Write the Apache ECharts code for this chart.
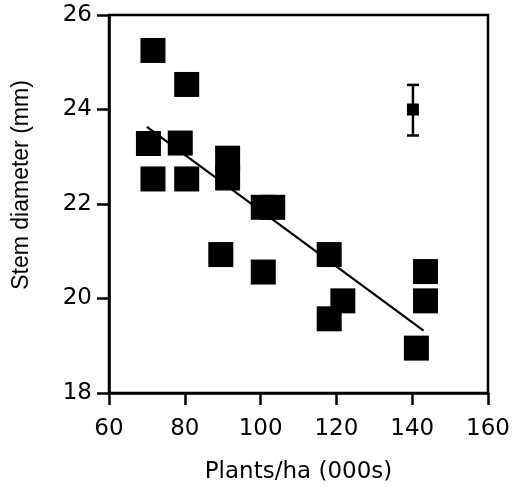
<!DOCTYPE html>
<html lang="en">
<head>
    <meta charset="UTF-8">
    <title>Stem diameter vs plant density</title>
    <style>
        html, body { margin: 0; padding: 0; background: #fff; }
        #main { width: 523px; height: 491px; }
    </style>
</head>
<body>
<script src="https://cdn.jsdelivr.net/npm/echarts@6/dist/echarts.min.js"></script>
<div id="main"></div>
<script>
    // plants per ha (thousands) and stem diameter (mm)
    var density  = [71.6, 80.5, 70.4, 78.8, 71.6, 80.5, 91.3, 91.3, 89.5, 100.7, 103.2, 100.7, 118.1, 121.7, 118.1, 143.5, 143.5, 141.1];
    var diameter = [25.25, 24.53, 23.28, 23.29, 22.53, 22.53, 22.97, 22.55, 20.93, 21.93, 21.93, 20.56, 20.93, 19.95, 19.57, 20.57, 19.95, 18.95];

    // fitted line end points
    var fitX = [70, 143];
    var fitY = [23.63, 19.32];

    // error bar shown in the upper right corner
    var errX = [140.2];
    var errY = [24.0];
    var errLow = [23.45];
    var errHigh = [24.52];

    var font = 'DejaVu Sans';

    var points = density.map(function (x, i) { return [x, diameter[i]]; });
    var fitLine = fitX.map(function (x, i) { return [x, fitY[i]]; });
    var errData = errX.map(function (x, i) { return [x, errY[i], errLow[i], errHigh[i]]; });

    var chart = echarts.init(document.getElementById('main'));

    var option = {
        animation: false,
        backgroundColor: '#fff',
        grid: {
            left: 109, right: 35, top: 15, bottom: 98,
            show: true, borderColor: '#000', borderWidth: 2.5, backgroundColor: 'transparent'
        },
        xAxis: {
            type: 'value', min: 60, max: 160, interval: 20,
            name: 'Plants/ha (000s)', nameLocation: 'middle', nameGap: 68,
            nameTextStyle: { color: '#000', fontSize: 23, fontFamily: font },
            axisLine: { show: true, lineStyle: { color: '#000', width: 2.5 } },
            axisTick: { show: true, length: 12, lineStyle: { color: '#000', width: 2.5 } },
            axisLabel: { color: '#000', fontSize: 23, fontFamily: font, margin: 25 },
            splitLine: { show: false }
        },
        yAxis: {
            type: 'value', min: 18, max: 26, interval: 2,
            name: 'Stem diameter (mm)', nameLocation: 'middle', nameGap: 76,
            nameTextStyle: { color: '#000', fontSize: 23, fontFamily: 'Liberation Sans', padding: [0, 0, 0, 38] },
            axisLine: { show: true, lineStyle: { color: '#000', width: 2.5 } },
            axisTick: { show: true, length: 12, lineStyle: { color: '#000', width: 2.5 } },
            axisLabel: { color: '#000', fontSize: 23, fontFamily: font, margin: 17 },
            splitLine: { show: false }
        },
        series: [
            {
                type: 'scatter',
                symbol: 'rect',
                symbolSize: 25,
                itemStyle: { color: '#000', opacity: 1 },
                data: points
            },
            {
                type: 'line',
                symbol: 'none',
                lineStyle: { color: '#000', width: 2.2 },
                data: fitLine,
                z: 3
            },
            {
                type: 'custom',
                renderItem: function (params, api) {
                    var c = api.coord([api.value(0), api.value(1)]);
                    var lo = api.coord([api.value(0), api.value(2)]);
                    var hi = api.coord([api.value(0), api.value(3)]);
                    var cap = 6;
                    var st = { stroke: '#000', lineWidth: 2.5 };
                    return {
                        type: 'group',
                        children: [
                            { type: 'line', shape: { x1: c[0], y1: hi[1], x2: c[0], y2: lo[1] }, style: st },
                            { type: 'line', shape: { x1: c[0] - cap, y1: hi[1], x2: c[0] + cap, y2: hi[1] }, style: st },
                            { type: 'line', shape: { x1: c[0] - cap, y1: lo[1], x2: c[0] + cap, y2: lo[1] }, style: st },
                            { type: 'rect', shape: { x: c[0] - 6, y: c[1] - 6, width: 12, height: 12 }, style: { fill: '#000' } }
                        ]
                    };
                },
                data: errData
            }
        ]
    };

    chart.setOption(option);
</script>
</body>
</html>
